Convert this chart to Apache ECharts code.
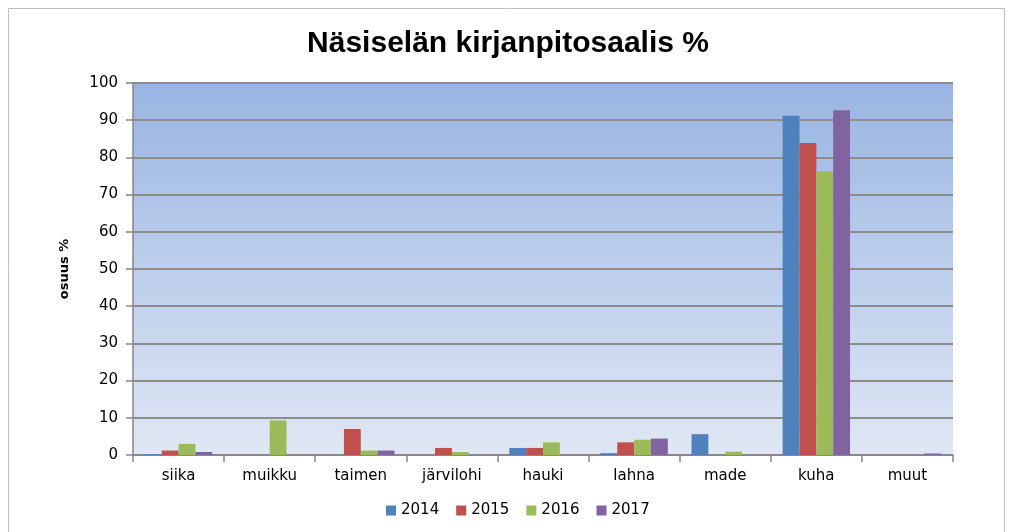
<!DOCTYPE html>
<html>
<head>
<meta charset="utf-8">
<script src="https://cdn.jsdelivr.net/npm/echarts@6/dist/echarts.min.js"></script>
<style>
  html, body { margin: 0; padding: 0; background: #fff; }
  #chart { width: 1016px; height: 532px; }
</style>
</head>
<body>
<div id="chart"></div>
<script>
// species (categories) and catch share per year, %
const categories = ['siika', 'muikku', 'taimen', 'järvilohi', 'hauki', 'lahna', 'made', 'kuha', 'muut'];
const years = ['2014', '2015', '2016', '2017'];
const v2014 = [0.2, 0, 0, 0, 1.9, 0.5, 5.6, 91.2, 0];
const v2015 = [1.2, 0, 7.0, 1.9, 1.9, 3.4, 0, 83.9, 0];
const v2016 = [3.0, 9.3, 1.2, 0.8, 3.4, 4.1, 0.9, 76.3, 0];
const v2017 = [0.8, 0, 1.2, 0, 0, 4.4, 0, 92.7, 0.4];
const yTicks = [0, 10, 20, 30, 40, 50, 60, 70, 80, 90, 100];

const colors = ['#4f81bd', '#c0504d', '#9bbb59', '#8064a2'];
const labelFont = 'DejaVu Sans';

const chart = echarts.init(document.getElementById('chart'), null, { renderer: 'canvas' });

const seriesData = [v2014, v2015, v2016, v2017];

const option = {
    animation: false,
    color: colors,
    title: {
        text: 'Näsiselän kirjanpitosaalis %',
        left: 'center',
        top: 24,
        textStyle: {
            fontFamily: 'Liberation Sans',
            fontWeight: 'bold',
            fontSize: 30,
            color: '#000'
        }
    },
    graphic: [{
        type: 'rect',
        shape: { x: 8.5, y: 8.5, width: 996, height: 540 },
        style: { fill: 'none', stroke: '#bfbfbf', lineWidth: 1 },
        silent: true,
        z: -1
    }],
    legend: {
        data: years,
        bottom: 14,
        left: 386,
        padding: 0,
        itemWidth: 10,
        itemHeight: 10,
        itemGap: 17,
        icon: 'rect',
        textStyle: { fontFamily: labelFont, fontSize: 15, color: '#000' }
    },
    grid: {
        left: 133,
        right: 63,
        top: 83,
        bottom: 77,
        show: true,
        borderWidth: 0,
        backgroundColor: new echarts.graphic.LinearGradient(0, 0, 0, 1, [
            { offset: 0, color: '#99b5e3' },
            { offset: 1, color: '#e0e7f4' }
        ])
    },
    xAxis: {
        type: 'category',
        data: categories,
        axisLine: { lineStyle: { color: '#868686', width: 1.5 } },
        axisTick: { show: true, length: 7, lineStyle: { color: '#868686', width: 1.5 } },
        axisLabel: { fontFamily: labelFont, fontSize: 15, color: '#000', margin: 14 }
    },
    yAxis: {
        type: 'value',
        min: yTicks[0],
        max: yTicks[yTicks.length - 1],
        interval: 10,
        name: 'osuus %',
        nameLocation: 'middle',
        nameGap: 62,
        nameTextStyle: { fontFamily: labelFont, fontWeight: 'bold', fontSize: 13, color: '#000' },
        axisLine: { show: true, lineStyle: { color: '#868686', width: 1.5 } },
        axisTick: { show: true, length: 7, lineStyle: { color: '#868686', width: 1.5 } },
        axisLabel: { fontFamily: labelFont, fontSize: 15, color: '#000', margin: 15 },
        splitLine: { lineStyle: { color: '#8c8c8c', width: 2 } }
    },
    series: years.map((y, i) => ({
        name: y,
        type: 'bar',
        data: seriesData[i],
        barGap: '0%',
        barCategoryGap: '26%'
    }))
};

chart.setOption(option);
</script>
</body>
</html>
